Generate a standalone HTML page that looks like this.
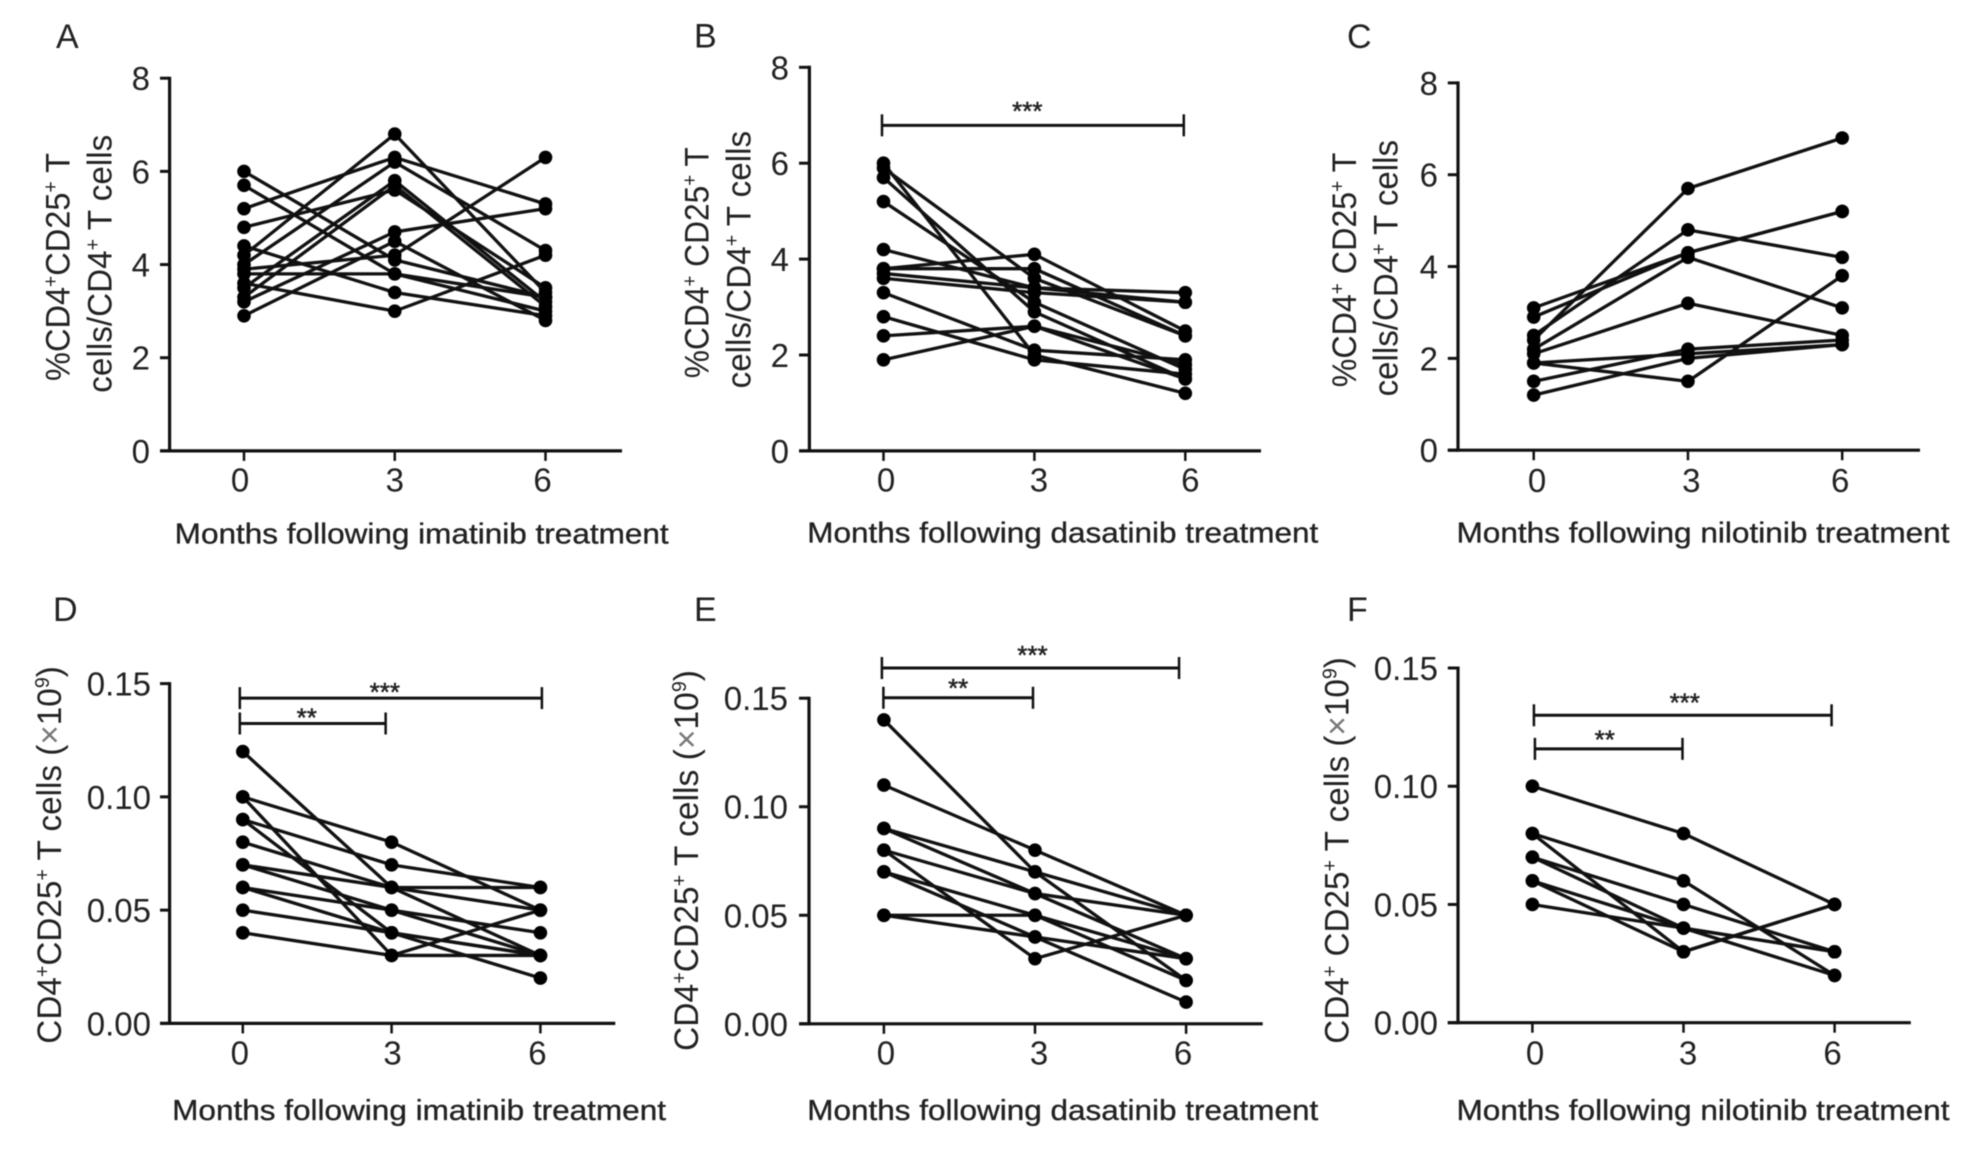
<!DOCTYPE html>
<html>
<head>
<meta charset="utf-8">
<title>CD4+CD25+ T cells following TKI treatment</title>
<style>
html,body{margin:0;padding:0;background:#fff;}
#figure{display:block;width:1974px;height:1159px;filter:blur(0.55px);}
text{font-family:"Liberation Sans",sans-serif;fill:#222;}
.panel-letter{font-size:34px;}
.x-title{font-size:28.5px;stroke:#222;stroke-width:0.35px;}
.y-title{font-size:34px;}
.sup{font-size:20px;}
.times{fill:#777;}
</style>
</head>
<body>
<svg id="figure" width="1974" height="1159" viewBox="0 0 1974 1159" xmlns="http://www.w3.org/2000/svg">
  <text class="panel-letter" x="56" y="48">A</text>
  <text class="panel-letter" x="694" y="47.5">B</text>
  <text class="panel-letter" x="1347" y="48">C</text>
  <text class="panel-letter" x="53" y="621">D</text>
  <text class="panel-letter" x="694" y="621">E</text>
  <text class="panel-letter" x="1347" y="621">F</text>

  <text class="x-title" x="174.7" y="543.5" textLength="494" lengthAdjust="spacingAndGlyphs">Months following imatinib treatment</text>
  <text class="x-title" x="807.3" y="542.5" textLength="511" lengthAdjust="spacingAndGlyphs">Months following dasatinib treatment</text>
  <text class="x-title" x="1456.5" y="542.5" textLength="493" lengthAdjust="spacingAndGlyphs">Months following nilotinib treatment</text>
  <text class="x-title" x="172.2" y="1120" textLength="493.8" lengthAdjust="spacingAndGlyphs">Months following imatinib treatment</text>
  <text class="x-title" x="807.3" y="1120" textLength="511" lengthAdjust="spacingAndGlyphs">Months following dasatinib treatment</text>
  <text class="x-title" x="1456.5" y="1120" textLength="493" lengthAdjust="spacingAndGlyphs">Months following nilotinib treatment</text>

  <text class="y-title" transform="translate(69.4,381) rotate(-90)" textLength="228" lengthAdjust="spacingAndGlyphs">%CD4<tspan class="sup" dy="-12">+</tspan><tspan dy="12">CD25</tspan><tspan class="sup" dy="-12">+</tspan><tspan dy="12"> T</tspan></text>
  <text class="y-title" transform="translate(111.5,392.7) rotate(-90)" textLength="258" lengthAdjust="spacingAndGlyphs">cells/CD4<tspan class="sup" dy="-12">+</tspan><tspan dy="12"> T cells</tspan></text>
  <text class="y-title" transform="translate(708.4,378.2) rotate(-90)" textLength="231" lengthAdjust="spacingAndGlyphs">%CD4<tspan class="sup" dy="-12">+</tspan><tspan dy="12"> CD25</tspan><tspan class="sup" dy="-12">+</tspan><tspan dy="12"> T</tspan></text>
  <text class="y-title" transform="translate(750.5,388.4) rotate(-90)" textLength="257.5" lengthAdjust="spacingAndGlyphs">cells/CD4<tspan class="sup" dy="-12">+</tspan><tspan dy="12"> T cells</tspan></text>
  <text class="y-title" transform="translate(1356,387.3) rotate(-90)" textLength="234.6" lengthAdjust="spacingAndGlyphs">%CD4<tspan class="sup" dy="-12">+</tspan><tspan dy="12"> CD25</tspan><tspan class="sup" dy="-12">+</tspan><tspan dy="12"> T</tspan></text>
  <text class="y-title" transform="translate(1397.3,396.4) rotate(-90)" textLength="256.4" lengthAdjust="spacingAndGlyphs">cells/CD4<tspan class="sup" dy="-12">+</tspan><tspan dy="12"> T cells</tspan></text>
  <text class="y-title" transform="translate(61,1043.7) rotate(-90)" textLength="377.5" lengthAdjust="spacingAndGlyphs">CD4<tspan class="sup" dy="-12">+</tspan><tspan dy="12">CD25</tspan><tspan class="sup" dy="-12">+</tspan><tspan dy="12"> T cells (</tspan><tspan class="times">×</tspan><tspan>10</tspan><tspan class="sup" dy="-12">9</tspan><tspan dy="12">)</tspan></text>
  <text class="y-title" transform="translate(697.9,1051) rotate(-90)" textLength="381" lengthAdjust="spacingAndGlyphs">CD4<tspan class="sup" dy="-12">+</tspan><tspan dy="12">CD25</tspan><tspan class="sup" dy="-12">+</tspan><tspan dy="12"> T cells (</tspan><tspan class="times">×</tspan><tspan>10</tspan><tspan class="sup" dy="-12">9</tspan><tspan dy="12">)</tspan></text>
  <text class="y-title" transform="translate(1348.5,1043.7) rotate(-90)" textLength="386.5" lengthAdjust="spacingAndGlyphs">CD4<tspan class="sup" dy="-12">+</tspan><tspan dy="12"> CD25</tspan><tspan class="sup" dy="-12">+</tspan><tspan dy="12"> T cells (</tspan><tspan class="times">×</tspan><tspan>10</tspan><tspan class="sup" dy="-12">9</tspan><tspan dy="12">)</tspan></text>
</svg>
<script>
// ---------- data ----------
const months = [0, 3, 6];
const monthLabels = ['0', '3', '6'];

const percentTicks = [0, 2, 4, 6, 8];
const percentTickLabels = ['0', '2', '4', '6', '8'];
const countTicks = [0, 0.05, 0.10, 0.15];
const countTickLabels = ['0.00', '0.05', '0.10', '0.15'];

const seriesA = [
  [6.0, 4.1, 3.3], [5.7, 3.8, 3.3], [5.2, 6.3, 5.3], [4.8, 5.6, 3.5],
  [4.4, 3.4, 2.9], [4.2, 6.8, 3.4], [4.0, 6.2, 4.3], [3.9, 4.2, 6.3],
  [3.6, 3.0, 4.2], [3.5, 5.8, 3.2], [3.3, 5.7, 3.1], [3.2, 4.7, 5.2],
  [2.9, 4.5, 2.8], [3.8, 3.8, 3.0]
];
const seriesB = [
  [6.0, 2.0, 1.2], [5.9, 3.6, 2.4], [5.7, 2.9, 1.5], [5.2, 3.1, 1.7],
  [4.2, 3.4, 3.3], [3.8, 4.1, 2.5], [3.8, 3.8, 2.4], [3.7, 3.4, 3.1],
  [3.6, 3.3, 3.1], [3.3, 2.1, 1.9], [2.8, 1.9, 1.6], [2.4, 2.6, 1.5],
  [1.9, 2.6, 1.8]
];
const seriesC = [
  [2.4, 5.7, 6.8], [2.5, 4.8, 4.2], [3.1, 4.3, 5.2], [2.9, 4.3, 5.2],
  [2.2, 4.2, 3.1], [2.1, 3.2, 2.5], [1.9, 1.5, 3.8], [1.5, 2.2, 2.4],
  [1.2, 2.0, 2.3], [1.9, 2.1, 2.3]
];
const seriesD = [
  [0.12, 0.06, 0.03], [0.10, 0.08, 0.05], [0.10, 0.03, 0.05], [0.09, 0.07, 0.06],
  [0.09, 0.04, 0.03], [0.08, 0.06, 0.06], [0.07, 0.06, 0.05], [0.07, 0.05, 0.04],
  [0.06, 0.05, 0.03], [0.06, 0.04, 0.02], [0.05, 0.04, 0.03], [0.04, 0.03, 0.03]
];
const seriesE = [
  [0.14, 0.07, 0.02], [0.11, 0.08, 0.05], [0.09, 0.07, 0.05], [0.09, 0.06, 0.03],
  [0.08, 0.06, 0.05], [0.08, 0.03, 0.05], [0.07, 0.05, 0.03], [0.07, 0.04, 0.01],
  [0.05, 0.05, 0.02], [0.05, 0.04, 0.03]
];
const seriesF = [
  [0.10, 0.08, 0.05], [0.08, 0.06, 0.02], [0.08, 0.03, 0.05], [0.07, 0.05, 0.03],
  [0.07, 0.04, 0.02], [0.06, 0.04, 0.03], [0.06, 0.03, 0.05], [0.05, 0.04, 0.03]
];

const sigLabels = ['***', '**'];
const sigFromB = [-0.03];
const sigToB = [5.97];
const sigLevelB = [6.79];
const sigFromD = [-0.06, -0.06];
const sigToD = [6.03, 2.88];
const sigLevelD = [0.1436, 0.1324];
const sigFromE = [-0.04, -0.01];
const sigToE = [5.86, 2.96];
const sigLevelE = [0.1639, 0.1502];
const sigFromF = [0.03, 0.05];
const sigToF = [5.94, 2.98];
const sigLevelF = [0.13, 0.1158];

// ---------- layout ----------
const panels = [
  { id: 'a', series: seriesA, ticks: percentTicks, tickLabels: percentTickLabels,
    axisX: 169.6, axisStart: 160, axisEnd: 622, x0: 244, x6: 545.5, y0: 450.9, yTop: 78.2,
    yLabelX: 150, xLabelY: 491.5, xLabelDx: [-4, 0, -3],
    sigFrom: [], sigTo: [], sigLevel: [], sigDx: [], sigDy: [] },
  { id: 'b', series: seriesB, ticks: percentTicks, tickLabels: percentTickLabels,
    axisX: 809.4, axisStart: 799, axisEnd: 1261, x0: 883.5, x6: 1185.3, y0: 450.9, yTop: 67.3,
    yLabelX: 789, xLabelY: 491.5, xLabelDx: [2.5, 4.5, 5],
    sigFrom: sigFromB, sigTo: sigToB, sigLevel: sigLevelB, sigDx: [-5.6], sigDy: [-19.5] },
  { id: 'c', series: seriesC, ticks: percentTicks, tickLabels: percentTickLabels,
    axisX: 1458, axisStart: 1447.8, axisEnd: 1920, x0: 1533.7, x6: 1842.2, y0: 450.2, yTop: 82.9,
    yLabelX: 1438, xLabelY: 492, xLabelDx: [3.4, 3.3, -2],
    sigFrom: [], sigTo: [], sigLevel: [], sigDx: [], sigDy: [] },
  { id: 'd', series: seriesD, ticks: countTicks, tickLabels: countTickLabels,
    axisX: 169.6, axisStart: 160, axisEnd: 615.3, x0: 242.8, x6: 540.4, y0: 1023.4, yTop: 683.6,
    yLabelX: 151, xLabelY: 1064.5, xLabelDx: [-3, 1, -3],
    sigFrom: sigFromD, sigTo: sigToD, sigLevel: sigLevelD, sigDx: [-6, -6], sigDy: [-11, -11] },
  { id: 'e', series: seriesE, ticks: countTicks, tickLabels: countTickLabels,
    axisX: 809, axisStart: 799, axisEnd: 1262.7, x0: 883.9, x6: 1186.1, y0: 1023.8, yTop: 698.2,
    yLabelX: 788, xLabelY: 1064.5, xLabelDx: [2, 4, -3],
    sigFrom: sigFromE, sigTo: sigToE, sigLevel: sigLevelE, sigDx: [2, 0], sigDy: [-18, -15] },
  { id: 'f', series: seriesF, ticks: countTicks, tickLabels: countTickLabels,
    axisX: 1458, axisStart: 1447.8, axisEnd: 1910.8, x0: 1532.4, x6: 1834.6, y0: 1022.7, yTop: 668,
    yLabelX: 1438, xLabelY: 1064.5, xLabelDx: [2.6, 4.6, -2],
    sigFrom: sigFromF, sigTo: sigToF, sigLevel: sigLevelF, sigDx: [2, -4], sigDy: [-18, -14.5] }
];

// ---------- rendering ----------
const SVGNS = 'http://www.w3.org/2000/svg';
const figure = document.getElementById('figure');
const INK = '#111';

function make(tag, parent, attrs) {
  const el = document.createElementNS(SVGNS, tag);
  for (const key in attrs) el.setAttribute(key, attrs[key]);
  parent.appendChild(el);
  return el;
}
function line(parent, x1, y1, x2, y2, width) {
  return make('line', parent, { x1: x1, y1: y1, x2: x2, y2: y2, stroke: INK, 'stroke-width': width });
}

panels.forEach(function (p) {
  const yMax = p.ticks[p.ticks.length - 1];
  const scaleX = function (m) { return p.x0 + (m / 6) * (p.x6 - p.x0); };
  const scaleY = function (v) { return p.y0 + (v / yMax) * (p.yTop - p.y0); };

  const group = make('g', figure, {});
  
  

  // axes
  const yAxis = line(group, p.axisX, p.yTop - 1.5, p.axisX, p.y0 + 1.5, 3.2);
  
  
  const xAxis = line(group, p.axisStart, p.y0, p.axisEnd, p.y0, 3.2);
  
  

  // y ticks
  p.ticks.forEach(function (t, i) {
    const tick = line(group, p.axisStart, scaleY(t), p.axisX, scaleY(t), 3);
    
    
    const label = make('text', group, { x: p.yLabelX, y: scaleY(t) + 12, 'text-anchor': 'end', 'font-size': 33 });
    label.textContent = p.tickLabels[i];
    
    
  });

  // x ticks
  months.forEach(function (m, i) {
    const tick = line(group, scaleX(m), p.y0, scaleX(m), p.y0 + 10, 2.5);
    
    
    const label = make('text', group, { x: scaleX(m) + p.xLabelDx[i], y: p.xLabelY, 'text-anchor': 'middle', 'font-size': 33 });
    label.textContent = monthLabels[i];
    
    
  });

  // patient series
  p.series.forEach(function (values, s) {
    const sg = make('g', group, {});
    
    
    const pts = values.map(function (v, i) { return scaleX(months[i]) + ',' + scaleY(v); }).join(' ');
    const path = make('polyline', sg, { points: pts, fill: 'none', stroke: INK, 'stroke-width': 3.3, 'stroke-linejoin': 'round' });
    
    
    values.forEach(function (v, i) {
      const dot = make('circle', sg, { cx: scaleX(months[i]), cy: scaleY(v), r: 6.8, fill: '#000' });
      
      
    });
  });

  // significance brackets
  p.sigLevel.forEach(function (level, i) {
    const bg = make('g', group, {});
    
    
    const xa = scaleX(p.sigFrom[i]);
    const xb = scaleX(p.sigTo[i]);
    const yb = scaleY(level);
    line(bg, xa, yb, xb, yb, 3);
    line(bg, xa, yb - 11, xa, yb + 11, 2.5);
    line(bg, xb, yb - 11, xb, yb + 11, 2.5);
    const star = make('text', bg, { x: (xa + xb) / 2 + p.sigDx[i], y: yb + p.sigDy[i] + 14, 'text-anchor': 'middle', 'font-size': 26, stroke: '#222', 'stroke-width': 0.5 });
    star.textContent = sigLabels[i];
    
    
  });
});
</script>
</body>
</html>
